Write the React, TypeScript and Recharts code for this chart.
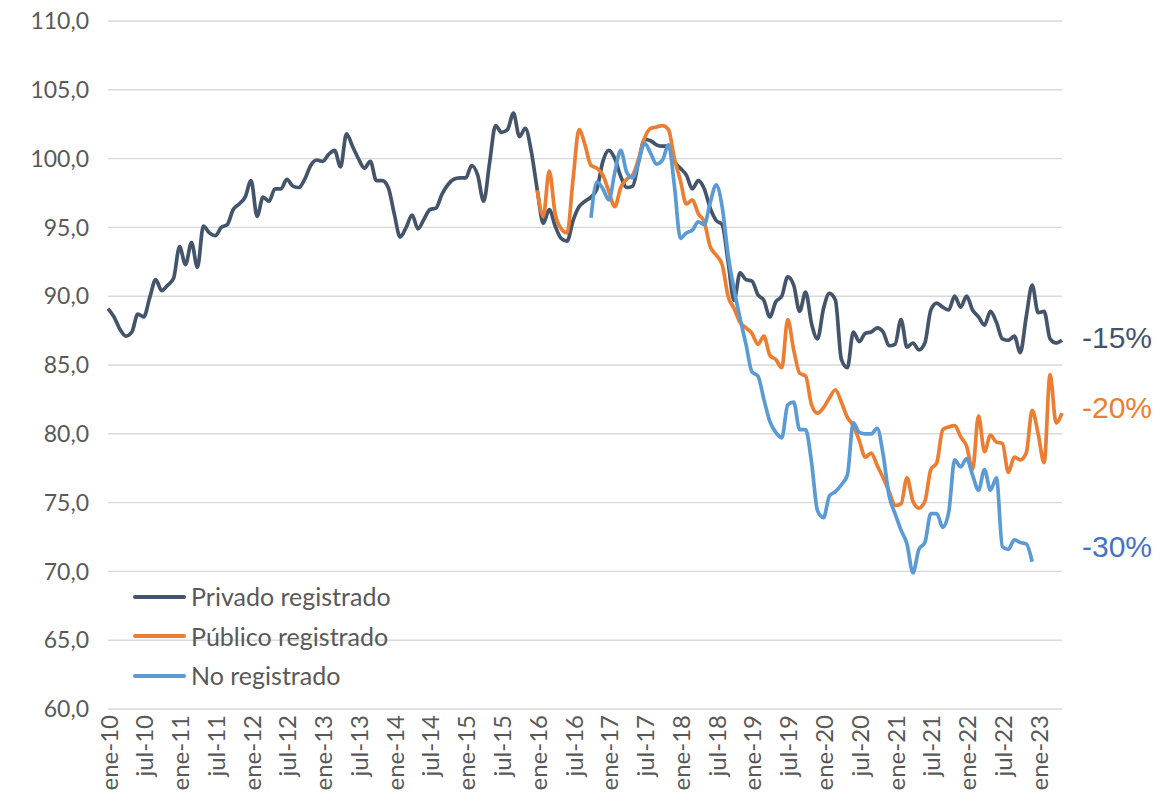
// Empleo asalariado por tipo: privado registrado, público registrado y no registrado
// Índice mensual ene-10 = base, líneas suavizadas + etiquetas de variación a la derecha.

import { LineChart, Line, CartesianGrid, XAxis, YAxis } from 'recharts';

const MONTHS = ['ene', 'feb', 'mar', 'abr', 'may', 'jun', 'jul', 'ago', 'sep', 'oct', 'nov', 'dic'];
const YEARS = ['10', '11', '12', '13', '14', '15', '16', '17', '18', '19', '20', '21', '22', '23'];
const N_MONTHS = 161; // ene-10 .. may-23

const Y_TICKS = [60, 65, 70, 75, 80, 85, 90, 95, 100, 105, 110];

const PRIVADO = [
  89.1, 88.5, 87.6, 87.1, 87.4, 88.7, 88.5, 89.9, 91.2, 90.4,
  90.8, 91.3, 93.6, 92.3, 93.9, 92.1, 95.1, 94.6, 94.4, 95.0,
  95.2, 96.3, 96.7, 97.2, 98.4, 95.8, 97.2, 96.9, 97.8, 97.8,
  98.5, 98.0, 97.9, 98.5, 99.5, 99.9, 99.8, 100.3, 100.6, 99.4,
  101.8, 100.9, 100.0, 99.3, 99.8, 98.4, 98.4, 97.9, 96.0, 94.3,
  95.0, 95.9, 94.9, 95.6, 96.3, 96.4, 97.4, 98.1, 98.5, 98.6,
  98.6, 99.5, 98.8, 96.9, 99.7, 102.4, 101.9, 102.1, 103.3, 101.6,
  102.2, 100.5, 97.7, 95.3, 96.3, 95.1, 94.2, 94.0, 95.5, 96.5,
  96.9, 97.2, 97.8, 99.8, 100.6, 100.0, 98.7, 97.9, 98.0, 99.8,
  101.4, 101.3, 101.0, 100.9, 100.9, 99.8, 99.3, 98.8, 97.8, 98.4,
  97.8, 96.4, 95.5, 95.2, 92.5, 89.7, 91.7, 91.2, 91.1, 90.1,
  89.7, 88.5, 89.6, 90.0, 91.4, 90.8, 88.9, 90.3, 88.0, 86.9,
  89.1, 90.2, 89.7, 85.4, 84.8, 87.4, 86.7, 87.3, 87.4, 87.7,
  87.4, 86.4, 86.5, 88.3, 86.3, 86.6, 86.1, 86.6, 89.0, 89.5,
  89.2, 89.0, 90.0, 89.2, 90.0, 89.0, 88.5, 87.9, 88.9, 88.1,
  86.9, 86.8, 87.1, 85.9, 88.5, 90.8, 88.8, 88.9, 86.9, 86.6,
  86.8,
];

// desde ene-16
const PUBLICO_START = 72;
const PUBLICO = [
  97.7, 95.8, 99.1, 96.0, 94.9, 94.6, 98.5, 102.1, 101.0, 99.5,
  99.3, 98.8, 97.6, 96.5, 97.9, 98.5, 98.8, 100.0, 101.5, 102.2,
  102.3, 102.4, 102.1, 100.0, 98.4, 96.7, 97.0, 96.0, 95.4, 93.6,
  93.0, 92.3, 90.0, 89.1, 88.1, 87.7, 87.3, 86.5, 87.1, 85.7,
  85.4, 84.8, 88.3, 86.1, 84.4, 84.2, 82.1, 81.5, 81.9, 82.6,
  83.2, 82.3, 81.2, 80.6, 79.5, 78.3, 78.6, 77.7, 76.8, 75.8,
  74.8, 74.9, 76.8, 75.1, 74.6, 75.1, 77.4, 77.9, 80.3, 80.5,
  80.6, 79.8, 79.1, 77.4, 81.3, 78.7, 79.9, 79.4, 79.3, 77.2,
  78.3, 78.1, 78.6, 81.7, 80.0, 77.9, 84.3, 80.8, 81.5,
];

// desde oct-16
const NO_REG_START = 81;
const NO_REGISTRADO = [
  95.7, 98.3, 97.8, 97.0, 99.0, 100.6, 99.0, 98.6, 99.8, 101.1,
  100.4, 99.6, 99.9, 101.0, 98.0, 94.2, 94.6, 94.8, 95.4, 95.2,
  96.8, 98.1, 96.5, 93.0, 90.5, 88.4, 86.5, 84.5, 84.2, 82.5,
  80.9, 80.1, 79.7, 82.1, 82.3, 80.3, 80.3, 77.9, 74.4, 73.9,
  75.5, 75.8, 76.3, 77.0, 80.8, 80.1, 80.0, 80.0, 80.4, 78.5,
  75.5, 74.2, 73.0, 72.0, 69.9, 71.6, 72.1, 74.2, 74.2, 73.2,
  74.3, 78.1, 77.6, 78.2, 77.0, 75.9, 77.4, 75.9, 76.8, 71.8,
  71.6, 72.3, 72.1, 72.0, 70.7,
];

const SERIES = [
  { key: 'privado', name: 'Privado registrado', color: '#44546A' },
  { key: 'publico', name: 'Público registrado', color: '#ED7D31' },
  { key: 'noRegistrado', name: 'No registrado', color: '#5B9BD5' },
];

const ANNOTATIONS = [
  { text: '-15%', color: '#44546A', top: 338 },
  { text: '-20%', color: '#ED7D31', top: 408 },
  { text: '-30%', color: '#4472C4', top: 547 },
];

const FONT = 'Lato, "Open Sans", sans-serif';
const TEXT = '#595959';

const data = Array.from({ length: N_MONTHS }, (_, i) => {
  const label = `${MONTHS[i % 12]}-${YEARS[Math.floor(i / 12)]}`;
  const pi = i - PUBLICO_START;
  const ni = i - NO_REG_START;
  return {
    label,
    privado: PRIVADO[i],
    publico: pi >= 0 && pi < PUBLICO.length ? PUBLICO[pi] : null,
    noRegistrado: ni >= 0 && ni < NO_REGISTRADO.length ? NO_REGISTRADO[ni] : null,
  };
});

function XTick({ x, y, payload }: { x?: number; y?: number; payload?: { value: string } }) {
  return (
    <text
      x={x}
      y={y}
      transform={`rotate(-90 ${x} ${y})`}
      textAnchor="end"
      dominantBaseline="central"
      fill={TEXT}
      fontSize={24}
      fontFamily={FONT}
    >
      {payload?.value}
    </text>
  );
}

function LegendBox() {
  return (
    <div style={{ position: 'absolute', left: 133, top: 577, fontFamily: FONT }}>
      {SERIES.map((s) => (
        <div key={s.key} style={{ display: 'flex', alignItems: 'center', height: 39.5 }}>
          <span style={{ width: 53, height: 4, borderRadius: 2, background: s.color, marginRight: 5 }} />
          <span style={{ fontSize: 25, color: TEXT, whiteSpace: 'nowrap', lineHeight: 1 }}>{s.name}</span>
        </div>
      ))}
    </div>
  );
}

export default function App() {
  return (
    <div style={{ position: 'absolute', left: 0, top: 0, width: 1166, height: 806, background: '#fff' }}>
      <LineChart
        width={1166}
        height={806}
        data={data}
        margin={{ top: 21, right: 104, bottom: 7, left: 8 }}
      >
        <CartesianGrid horizontal vertical={false} stroke="#d9d9d9" strokeWidth={1.4} />
        <XAxis
          dataKey="label"
          interval={5}
          axisLine={false}
          tickLine={false}
          tickSize={0}
          tickMargin={6}
          height={90}
          tick={<XTick />}
        />
        <YAxis
          domain={[60, 110]}
          ticks={Y_TICKS}
          width={100}
          axisLine={false}
          tickLine={false}
          tickSize={0}
          tickMargin={19}
          tickFormatter={(v: number) => v.toFixed(1).replace('.', ',')}
          tick={{ fontSize: 23, fill: TEXT, fontFamily: FONT }}
        />
        {SERIES.map((s) => (
          <Line
            key={s.key}
            type="monotone"
            dataKey={s.key}
            name={s.name}
            stroke={s.color}
            strokeWidth={3.7}
            dot={false}
            activeDot={false}
            isAnimationActive={false}
          />
        ))}
      </LineChart>
      <LegendBox />
      {ANNOTATIONS.map((a) => (
        <div
          key={a.text}
          style={{
            position: 'absolute',
            left: 1082,
            top: a.top,
            transform: 'translateY(-50%)',
            fontFamily: '"Liberation Sans", Arial, sans-serif',
            fontSize: 30,
            lineHeight: 1,
            color: a.color,
          }}
        >
          {a.text}
        </div>
      ))}
    </div>
  );
}
